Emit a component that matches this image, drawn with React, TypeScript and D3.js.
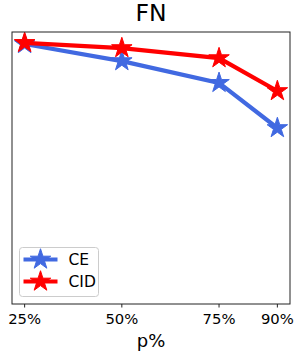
import React from "react";
import * as d3 from "d3";

const pValues = [25, 50, 75, 90];
const tickLabels = ["25%", "50%", "75%", "90%"];
const ceValues = [95.6, 89.3, 81.3, 64.7];
const cidValues = [96.0, 94.1, 90.4, 78.3];

const W = 301;
const H = 352;
const margin = { top: 32, right: 11, bottom: 48, left: 12 };

const series = [
  { name: "CE", color: "#4169e1", values: ceValues },
  { name: "CID", color: "#ff0000", values: cidValues },
];

export default function App() {
  const x = d3
    .scaleLinear()
    .domain([21.75, 93.25])
    .range([margin.left, W - margin.right]);
  const y = d3
    .scaleLinear()
    .domain([0, 100])
    .range([H - margin.bottom, margin.top]);

  const line = d3
    .line<number>()
    .x((_, i) => x(pValues[i]))
    .y((d) => y(d));

  const star = d3.symbol().type(d3.symbolStar).size(130)();
  const font = "DejaVu Sans, sans-serif";
  const bottom = H - margin.bottom;

  return (
    <svg
      width={W}
      height={H}
      style={{ position: "absolute", left: 0, top: 0 }}
      fontFamily={font}
    >
      <rect width={W} height={H} fill="#fff" />
      <text x={151} y={21} textAnchor="middle" fontSize={23.5}>
        FN
      </text>
      {series.map((s) => (
        <g key={s.name}>
          <path d={line(s.values) || ""} fill="none" stroke={s.color} strokeWidth={4.2} />
          {s.values.map((v, i) => (
            <path
              key={i}
              d={star}
              transform={`translate(${x(pValues[i])},${y(v)})`}
              fill={s.color}
              stroke={s.color}
              strokeWidth={1}
            />
          ))}
        </g>
      ))}
      <rect
        x={margin.left}
        y={margin.top}
        width={W - margin.left - margin.right}
        height={bottom - margin.top}
        fill="none"
        stroke="#222"
        strokeWidth={1}
      />
      {pValues.map((p, i) => (
        <g key={p} transform={`translate(${x(p)},${bottom})`}>
          <line y2={3.5} stroke="#222" />
          <text y={19.5} textAnchor="middle" fontSize={14.8}>
            {tickLabels[i]}
          </text>
        </g>
      ))}
      <text x={151} y={346.5} textAnchor="middle" fontSize={18}>
        p%
      </text>
      <g transform="translate(19.5,247.5)">
        <rect width={79} height={49} rx={3} fill="#fff" fillOpacity={0.8} stroke="#ccc" />
        {series.map((s, i) => (
          <g key={s.name} transform={`translate(0,${12 + i * 22})`}>
            <line x1={4} x2={38} stroke={s.color} strokeWidth={4.2} />
            <path d={star} transform="translate(21,0)" fill={s.color} stroke={s.color} />
            <text x={49} y={5.5} fontSize={15.5}>
              {s.name}
            </text>
          </g>
        ))}
      </g>
    </svg>
  );
}
